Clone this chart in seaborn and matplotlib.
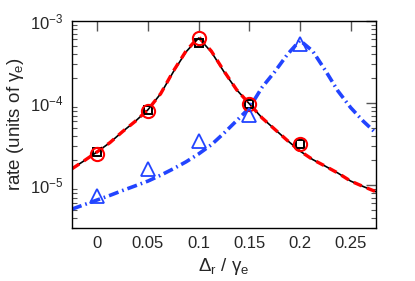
import numpy as np
import pandas as pd
import matplotlib
matplotlib.use("Agg")
import matplotlib.pyplot as plt
import seaborn as sns
from matplotlib.ticker import LogLocator, FixedLocator, FixedFormatter, NullLocator

# ---- data ----
x_pts = [0.0, 0.05, 0.1, 0.15, 0.2]
sq_black = [2.55e-5, 8.2e-5, 5.35e-4, 9.6e-5, 3.16e-5]
circ_red = [2.37e-5, 8.0e-5, 6.26e-4, 9.8e-5, 3.16e-5]
tri_blue = [7.3e-6, 1.55e-5, 3.44e-5, 7.1e-5, 5.2e-4]

x_curve = [-0.025, -0.0125, 0.0, 0.0125, 0.025, 0.0375, 0.05, 0.0625, 0.075,
           0.0875, 0.1, 0.1125, 0.125, 0.1375, 0.15, 0.1625, 0.175, 0.1875,
           0.2, 0.2125, 0.225, 0.2375, 0.25, 0.2625, 0.275]
curve_black = [1.58e-5, 2.0e-5, 2.55e-5, 3.3e-5, 4.5e-5, 6.0e-5, 8.3e-5, 1.3e-4, 2.4e-4,
               4.2e-4, 6.2e-4, 4.2e-4, 2.4e-4, 1.45e-4, 9.8e-5, 6.6e-5, 4.8e-5, 3.5e-5,
               2.6e-5, 2.05e-5, 1.7e-5, 1.4e-5, 1.12e-5, 9.6e-6, 8.3e-6]
curve_red = [1.58e-5, 2.0e-5, 2.55e-5, 3.3e-5, 4.5e-5, 6.0e-5, 8.3e-5, 1.3e-4, 2.45e-4,
             4.3e-4, 6.4e-4, 4.3e-4, 2.45e-4, 1.45e-4, 9.8e-5, 6.6e-5, 4.8e-5, 3.5e-5,
             2.6e-5, 2.05e-5, 1.7e-5, 1.4e-5, 1.12e-5, 9.6e-6, 8.3e-6]
curve_blue = [5.1e-6, 5.8e-6, 6.6e-6, 7.5e-6, 8.6e-6, 9.8e-6, 1.12e-5, 1.32e-5, 1.58e-5,
              1.92e-5, 2.4e-5, 3.1e-5, 4.3e-5, 6.1e-5, 8.7e-5, 1.55e-4, 2.4e-4, 3.9e-4,
              5.8e-4, 4.3e-4, 2.5e-4, 1.4e-4, 8.8e-5, 6.0e-5, 4.3e-5]

xticks = [0, 0.05, 0.1, 0.15, 0.2, 0.25]
xticklabels = ["0", "0.05", "0.1", "0.15", "0.2", "0.25"]

# ---- style ----
sns.set_theme(style="white")
plt.rcParams["font.family"] = ["Liberation Sans", "DejaVu Sans"]
plt.rcParams["mathtext.fontset"] = "custom"
plt.rcParams["mathtext.rm"] = "Liberation Sans"
plt.rcParams["mathtext.it"] = "Liberation Sans:italic"
plt.rcParams["mathtext.bf"] = "Liberation Sans:bold"

fig = plt.figure(figsize=(4.15, 2.81), dpi=100)
ax = fig.add_axes([0.1735, 0.1886, 0.7325, 0.7367])

dfc = pd.DataFrame({"x": x_curve, "black": curve_black, "red": curve_red, "blue": curve_blue})
dfp = pd.DataFrame({"x": x_pts, "sq": sq_black, "circ": circ_red, "tri": tri_blue})

sns.lineplot(data=dfc, x="x", y="black", ax=ax, color="black", lw=1.2, sort=False)
sns.lineplot(data=dfc, x="x", y="red", ax=ax, color="#ff0000", lw=2.4,
             linestyle=(0, (2.6, 1.7)), sort=False)
sns.lineplot(data=dfc, x="x", y="blue", ax=ax, color="#2244ff", lw=2.6,
             linestyle=(0, (2.8, 1.1, 0.45, 1.1)), sort=False)

sns.lineplot(data=dfp, x="x", y="sq", ax=ax, linestyle="", marker="s", ms=5.5,
             mfc="none", mec="black", mew=1.4, sort=False)
sns.lineplot(data=dfp, x="x", y="circ", ax=ax, linestyle="", marker="o", ms=9.5,
             mfc="none", mec="#ff0000", mew=1.5, sort=False)
sns.lineplot(data=dfp, x="x", y="tri", ax=ax, linestyle="", marker="^", ms=10,
             mfc="none", mec="#2244ff", mew=1.3, sort=False)

ax.set_yscale("log")
ax.set_xlim(-0.025, 0.275)
ax.set_ylim(3e-6, 1e-3)

ax.xaxis.set_major_locator(FixedLocator(xticks))
ax.xaxis.set_major_formatter(FixedFormatter(xticklabels))
ax.xaxis.set_minor_locator(NullLocator())
ax.yaxis.set_major_locator(LogLocator(base=10, numticks=10))
ax.yaxis.set_minor_locator(LogLocator(base=10, subs=np.arange(2, 10), numticks=10))

ax.tick_params(axis="both", which="major", direction="in", length=7, width=1,
               color="#555555", top=True, right=True, labelsize=12, pad=6)
ax.tick_params(axis="y", which="minor", direction="in", length=3.5, width=0.8,
               color="#555555", left=True, right=True)
for s in ax.spines.values():
    s.set_color("black")
    s.set_linewidth(1.0)

ax.set_xlabel("Δ$_{\\rm r}$ / γ$_{\\rm e}$", fontsize=13.5, labelpad=3)
ax.set_ylabel("rate (units of γ$_{\\rm e}$)", fontsize=13.5, labelpad=3)

fig.savefig("out.png", dpi=100)
